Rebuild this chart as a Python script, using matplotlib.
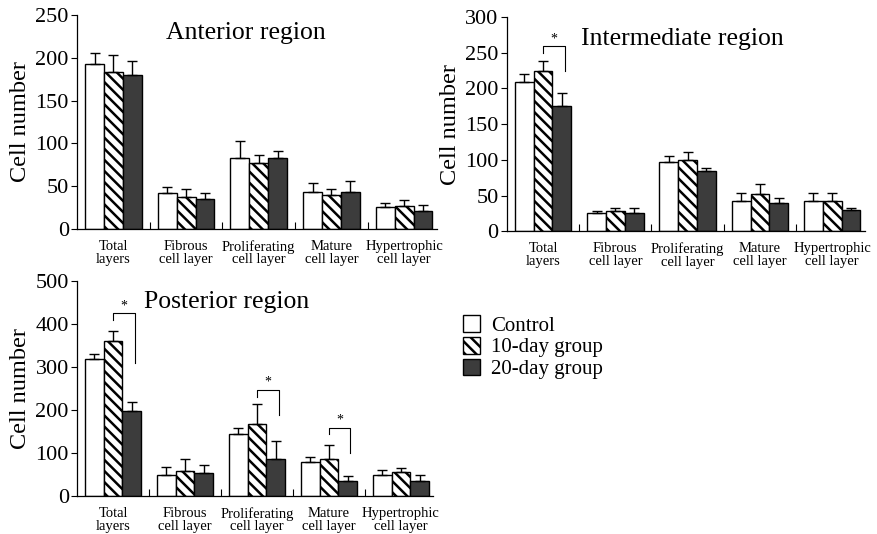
import numpy as np
import matplotlib
matplotlib.use('Agg')
import matplotlib.pyplot as plt
from matplotlib.patches import Patch

plt.rcParams['font.family'] = ['Liberation Serif', 'DejaVu Serif']
plt.rcParams['hatch.linewidth'] = 1.8

categories = ['Total\nlayers', 'Fibrous\ncell layer', 'Proliferating\ncell layer',
              'Mature\ncell layer', 'Hypertrophic\ncell layer']
groups = ['Control', '10-day group', '20-day group']

# anterior region: means and upper error limits
ant_control = [193, 42, 83, 43, 26]
ant_control_top = [205, 49, 103, 54, 30]
ant_10day = [183, 38, 77, 40, 27]
ant_10day_top = [203, 47, 86, 47, 34]
ant_20day = [180, 35, 83, 43, 21]
ant_20day_top = [196, 42, 91, 56, 28]

# intermediate region
int_control = [209, 26, 97, 43, 43]
int_control_top = [220, 29, 105, 53, 53]
int_10day = [224, 28.5, 100, 52, 43]
int_10day_top = [238, 33, 111, 66, 53]
int_20day = [175, 26, 84.5, 40, 30]
int_20day_top = [194, 32, 89, 47, 33]

# posterior region
post_control = [319, 49, 145, 79, 48]
post_control_top = [330, 68, 158, 91, 60]
post_10day = [360, 58, 167, 87, 56]
post_10day_top = [384, 86, 214, 118, 65]
post_20day = [198, 53, 87, 34, 34]
post_20day_top = [218, 73, 128, 46, 50]

# significance brackets: (category index, top, left leg end, right leg end)
int_brackets = [(0, 259, 249, 224)]
post_brackets = [(0, 425, 408, 309), (2, 247, 230, 189), (3, 159, 145, 101)]

bar_w = 0.26
face = ['white', 'white', '#3c3c3c']
hatches = ['', '\\\\\\', '']


def draw_panel(ax, means, tops, ymax, ystep, title, title_xy, brackets):
    x = np.arange(len(categories))
    for i in range(3):
        xs = x + (i - 1) * bar_w
        err = np.array(tops[i]) - np.array(means[i])
        ax.bar(xs, means[i], bar_w, color=face[i], edgecolor='black',
               hatch=hatches[i], linewidth=1.0, zorder=2)
        ax.errorbar(xs, means[i], yerr=[np.zeros(len(err)), err], fmt='none',
                    ecolor='black', elinewidth=1.0, capsize=3.5, capthick=1.0, zorder=3)
    for ci, ytop, yl, yr in brackets:
        x1 = ci
        x2 = ci + bar_w * 1.15
        ax.plot([x1, x1, x2, x2], [yl, ytop, ytop, yr], color='black', lw=0.8, zorder=4)
        ax.text((x1 + x2) / 2, ytop + ymax * 0.005, '*', ha='center', va='bottom',
                fontsize=10)
    ax.set_xlim(-0.5, 4.45)
    ax.set_ylim(0, ymax)
    ax.set_yticks(np.arange(0, ymax + 1, ystep))
    ax.tick_params(axis='y', labelsize=16, length=4, width=0.8, pad=2)
    ax.set_xticks(x)
    ax.set_xticklabels(categories, fontsize=10.5, linespacing=0.95)
    ax.tick_params(axis='x', which='major', length=0, pad=8)
    ax.set_xticks(x[:-1] + 0.5, minor=True)
    ax.tick_params(axis='x', which='minor', direction='in', length=5, width=0.8)
    ax.set_ylabel('Cell number', fontsize=17.5, labelpad=3)
    for s in ['top', 'right']:
        ax.spines[s].set_visible(False)
    for s in ['left', 'bottom']:
        ax.spines[s].set_linewidth(0.9)
    ax.text(title_xy[0], title_xy[1], title, transform=ax.transAxes,
            ha='center', va='center', fontsize=18.5)


fig = plt.figure(figsize=(8.77, 5.34), dpi=100)
ax1 = fig.add_axes([0.088, 0.571, 0.41, 0.401])
ax2 = fig.add_axes([0.578, 0.567, 0.408, 0.401])
ax3 = fig.add_axes([0.088, 0.071, 0.406, 0.403])

draw_panel(ax1, [ant_control, ant_10day, ant_20day],
           [ant_control_top, ant_10day_top, ant_20day_top],
           250, 50, 'Anterior region', (0.47, 0.915), [])
draw_panel(ax2, [int_control, int_10day, int_20day],
           [int_control_top, int_10day_top, int_20day_top],
           300, 50, 'Intermediate region', (0.49, 0.90), int_brackets)
draw_panel(ax3, [post_control, post_10day, post_20day],
           [post_control_top, post_10day_top, post_20day_top],
           500, 100, 'Posterior region', (0.42, 0.90), post_brackets)

handles = [Patch(facecolor=face[i], edgecolor='black', hatch=hatches[i], linewidth=1.0)
           for i in range(3)]
fig.legend(handles, groups, loc='upper left', bbox_to_anchor=(0.518, 0.425),
           frameon=False, fontsize=15, handlelength=0.85, handleheight=0.85,
           handletextpad=0.5, labelspacing=0.05, borderaxespad=0)

fig.savefig('out.png', dpi=100)
